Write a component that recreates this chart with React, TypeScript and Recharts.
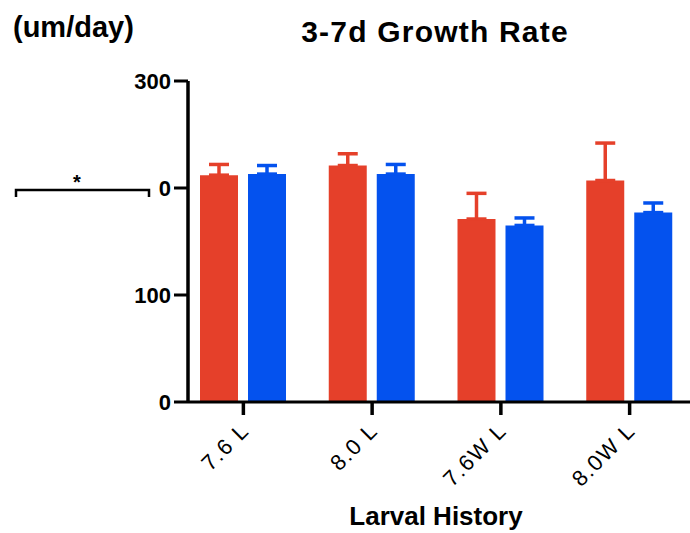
import React from "react";
import { BarChart, Bar, XAxis, YAxis, ErrorBar } from "recharts";

const categories = ["7.6 L", "8.0 L", "7.6W L", "8.0W L"];
const redMeans = [212, 221, 171, 207];
const redSem = [10, 11, 24, 35];
const blueMeans = [213, 213, 165, 177];
const blueSem = [8, 9, 7, 9];
const yTicks = [0, 100, 200, 300];

const RED = "#E5402A";
const BLUE = "#0452EE";
const FONT = "'Liberation Sans', Arial, Helvetica, sans-serif";

const data = categories.map((name, i) => ({
  name,
  red: redMeans[i],
  redErr: [0, redSem[i]],
  blue: blueMeans[i],
  blueErr: [0, blueSem[i]],
}));

const XTick = (props: any) => {
  const { x, y, payload } = props;
  return (
    <text
      x={0}
      y={0}
      transform={`translate(${x + 7},${y + 17}) rotate(-45)`}
      textAnchor="end"
      fontSize={22}
      letterSpacing={1.5}
      fontFamily={FONT}
      fill="#000"
    >
      {payload.value}
    </text>
  );
};

const App: React.FC = () => {
  return (
    <div style={{ position: "absolute", left: 0, top: 0, width: 690, height: 533, overflow: "hidden", background: "#fff" }}>
      <BarChart
        width={690}
        height={533}
        data={data}
        margin={{ top: 81, right: 0, bottom: 71, left: 128 }}
        barSize={38}
        barGap={10}
      >
        <XAxis
          dataKey="name"
          padding={{ left: -9, right: -4 }}
          height={60}
          axisLine={{ stroke: "#000", strokeWidth: 3 }}
          tickLine={{ stroke: "#000", strokeWidth: 3.5 }}
          tickSize={13}
          tickMargin={0}
          tick={<XTick />}
          interval={0}
        />
        <YAxis
          domain={[0, 300]}
          ticks={yTicks}
          width={60}
          axisLine={{ stroke: "#000", strokeWidth: 3.5 }}
          tickLine={{ stroke: "#000", strokeWidth: 3 }}
          tickSize={14}
          tickMargin={3}
          tick={{ fill: "#000", fontSize: 22, fontWeight: "bold", fontFamily: FONT }}
        />
        <Bar dataKey="red" fill={RED} isAnimationActive={false}>
          <ErrorBar dataKey="redErr" width={10} stroke={RED} strokeWidth={3.5} direction="y" />
        </Bar>
        <Bar dataKey="blue" fill={BLUE} isAnimationActive={false}>
          <ErrorBar dataKey="blueErr" width={10} stroke={BLUE} strokeWidth={3.5} direction="y" />
        </Bar>
      </BarChart>
      <svg width={690} height={533} style={{ position: "absolute", left: 0, top: 0, pointerEvents: "none" }}>
        <text x={435} y={42} textAnchor="middle" fontSize={30} letterSpacing={1.2} fontWeight="bold" fontFamily={FONT} fill="#000">
          3-7d Growth Rate
        </text>
        <text x={13} y={37} fontSize={29} fontWeight="bold" fontFamily={FONT} fill="#000">
          (um/day)
        </text>
        <text x={436} y={525} textAnchor="middle" fontSize={26} fontWeight="bold" fontFamily={FONT} fill="#000">
          Larval History
        </text>
        {/* significance bracket that covers part of the 200 label */}
        <rect x={0} y={174} width={159} height={28} fill="#fff" />
        <path d="M16,197 L16,190 L149,190 L149,197" fill="none" stroke="#000" strokeWidth={2.5} />
        <text x={77} y={189} textAnchor="middle" fontSize={20} fontWeight="bold" fontFamily={FONT} fill="#000">
          *
        </text>
      </svg>
    </div>
  );
};

export default App;
